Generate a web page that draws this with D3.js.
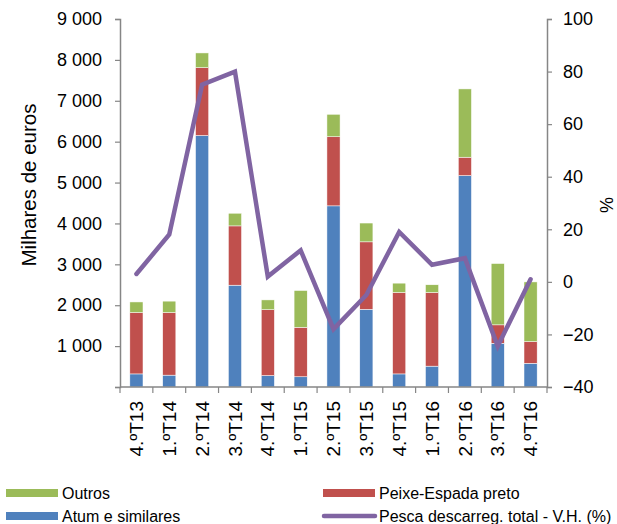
<!DOCTYPE html>
<html>
<head>
<meta charset="utf-8">
<script src="https://cdn.jsdelivr.net/npm/d3@7"></script>
<style>
  html, body { margin: 0; padding: 0; background: #fff; }
  text { font-family: "Liberation Sans", Arial, sans-serif; fill: #000; }
</style>
</head>
<body>
<svg id="chart" width="617" height="524"></svg>
<script>
const categories = ["4.ºT13","1.ºT14","2.ºT14","3.ºT14","4.ºT14","1.ºT15","2.ºT15","3.ºT15","4.ºT15","1.ºT16","2.ºT16","3.ºT16","4.ºT16"];
const atum   = [320, 290, 6150, 2490, 280, 250, 4430, 1900, 320, 510, 5170, 1070, 580];
const peixe  = [1500, 1530, 1660, 1450, 1610, 1210, 1690, 1650, 1990, 1800, 450, 450, 530];
const outros = [260, 280, 360, 310, 240, 900, 550, 460, 230, 190, 1670, 1500, 1460];
const pesca  = [3, 18, 75, 80, 2, 12, -18, -5, 19, 6.5, 9, -24.5, 1];
const leftTicks  = [0, 1000, 2000, 3000, 4000, 5000, 6000, 7000, 8000, 9000];
const rightTicks = [-40, -20, 0, 20, 40, 60, 80, 100];

const colors = { atum: "#4F81BD", peixe: "#C0504D", outros: "#9BBB59", pesca: "#8064A2" };
const axisColor = "#868686";

const svg = d3.select("#chart");
const L = 120, R = 547, T = 19, B = 387;

const x = d3.scaleBand().domain(categories).range([L, R]).paddingInner(0.6).paddingOuter(0.3);
const yL = d3.scaleLinear().domain([0, 9000]).range([B, T]);
const yR = d3.scaleLinear().domain([-40, 100]).range([B, T]);

const fmt = d => d === 0 ? "" : d3.format(",")(d).replace(/,/g, "\u00a0");

// bars
const rows = categories.map((c, i) => ({ cat: c, atum: atum[i], peixe: peixe[i], outros: outros[i] }));
const stack = d3.stack().keys(["atum", "peixe", "outros"])(rows);
svg.append("g").selectAll("g").data(stack).join("g")
  .attr("fill", d => colors[d.key])
  .selectAll("rect").data(d => d).join("rect")
  .attr("x", d => x(d.data.cat))
  .attr("width", x.bandwidth())
  .attr("y", d => yL(d[1]))
  .attr("height", d => yL(d[0]) - yL(d[1]))
  .attr("stroke", "#fff").attr("stroke-width", 0.5);

// line
const line = d3.line().x((d, i) => x(categories[i]) + x.bandwidth() / 2).y(d => yR(d));
svg.append("path").datum(pesca).attr("d", line)
  .attr("fill", "none").attr("stroke", colors.pesca).attr("stroke-width", 4.5)
  .attr("stroke-linejoin", "miter").attr("stroke-linecap", "round");

// left axis
const gL = svg.append("g").attr("transform", `translate(${L},0)`)
  .call(d3.axisLeft(yL).tickValues(leftTicks).tickFormat(fmt).tickSize(5).tickPadding(13));
// right axis
const gR = svg.append("g").attr("transform", `translate(${R},0)`)
  .call(d3.axisRight(yR).tickValues(rightTicks).tickSize(5).tickPadding(11));
[gL, gR].forEach(g => {
  g.select(".domain").attr("stroke", axisColor).attr("stroke-width", 1.5);
  g.selectAll(".tick line").attr("stroke", axisColor).attr("stroke-width", 1.2);
  g.selectAll("text").attr("font-size", 18).attr("font-family", "Liberation Sans, Arial, sans-serif").attr("fill", "#000");
});

// bottom axis
const gB = svg.append("g");
gB.append("line").attr("x1", L).attr("x2", R).attr("y1", B).attr("y2", B)
  .attr("stroke", axisColor).attr("stroke-width", 1.5);
const bounds = d3.range(categories.length + 1).map(i => L + i * x.step());
gB.selectAll("line.tk").data(bounds).join("line").attr("class", "tk")
  .attr("x1", d => d).attr("x2", d => d).attr("y1", B).attr("y2", B + 6)
  .attr("stroke", axisColor).attr("stroke-width", 1.2);
gB.selectAll("text").data(categories).join("text")
  .attr("transform", d => `translate(${x(d) + x.bandwidth() / 2},${401}) rotate(-90)`)
  .attr("text-anchor", "end").attr("dy", "0.35em")
  .attr("font-size", 19).text(d => d);

// axis titles
svg.append("text").attr("transform", `translate(36,185) rotate(-90)`)
  .attr("text-anchor", "middle").attr("font-size", 20.5).text("Milhares de euros");
svg.append("text").attr("transform", `translate(613,205) rotate(-90)`)
  .attr("text-anchor", "middle").attr("font-size", 18).text("%");

// legend
const legend = [
  { label: "Outros", color: colors.outros, x: 6, y: 493, type: "rect" },
  { label: "Peixe-Espada preto", color: colors.peixe, x: 323, y: 493, type: "rect" },
  { label: "Atum e similares", color: colors.atum, x: 6, y: 516, type: "rect" },
  { label: "Pesca descarreg. total - V.H. (%)", color: colors.pesca, x: 323, y: 516, type: "line" }
];
const lg = svg.append("g").selectAll("g").data(legend).join("g")
  .attr("transform", d => `translate(${d.x},${d.y})`);
lg.filter(d => d.type === "rect").append("rect")
  .attr("x", 0).attr("y", -4).attr("width", 52).attr("height", 8).attr("fill", d => d.color);
lg.filter(d => d.type === "line").append("line")
  .attr("x1", 1).attr("x2", 52).attr("y1", 0).attr("y2", 0)
  .attr("stroke", d => d.color).attr("stroke-width", 4.5).attr("stroke-linecap", "round");
lg.append("text").attr("x", 56).attr("dy", "0.35em").attr("font-size", 16).text(d => d.label);
</script>
</body>
</html>
